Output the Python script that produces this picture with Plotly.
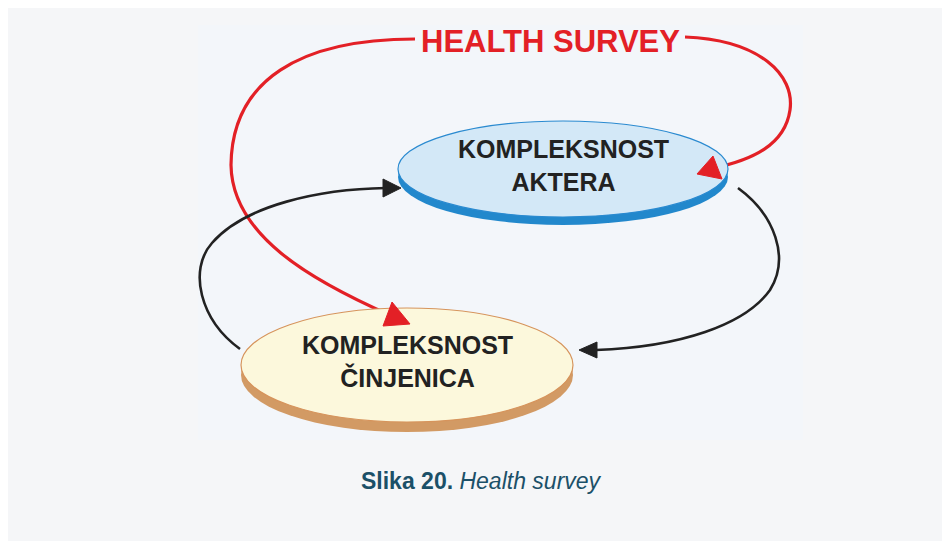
import plotly.graph_objects as go

# ---- diagram content ----
title_text = "HEALTH SURVEY"
node_labels = ["KOMPLEKSNOST<br>AKTERA", "KOMPLEKSNOST<br>ČINJENICA"]
caption_bold = "Slika 20."
caption_italic = "Health survey"

# node geometry (page pixel coords, y downward)
node_cx = [563, 407]
node_cy = [169, 365]
node_rx = [165, 166]
node_ry = [48, 57]
node_fill = ["#d3e8f7", "#fcf8dc"]
node_edge = ["#2a8ad0", "#d6945c"]
node_shadow = ["#2288cc", "#d29a64"]
shadow_dy = [8, 10]

RED = "#e32026"
BLACK = "#222222"

# the page body has an 8px margin; axes are set so data units equal page pixels
OFF = 8
W, H = 950, 541

fig = go.Figure()
shapes = []
# background
shapes.append(dict(type="rect", x0=0, x1=949, y0=0, y1=540, fillcolor="#f5f6f8",
                   line=dict(width=0), layer="below"))
shapes.append(dict(type="rect", x0=198, x1=803, y0=25, y1=440, fillcolor="#f3f6fa",
                   line=dict(width=0), layer="below"))

# connectors (drawn before ellipses)
curves = [
    ("M 415 39 C 300 39, 232 80, 231 165 C 232 235, 310 280, 392 316", RED, 3.2),
    ("M 685 37 C 760 40, 795 75, 790 110 C 785 145, 752 160, 714 168", RED, 3.2),
    ("M 240 349 C 200 320, 188 270, 212 243 C 245 205, 320 189, 386 188", BLACK, 2.6),
    ("M 738 188 C 775 215, 790 258, 770 290 C 745 325, 680 347, 596 350", BLACK, 2.6),
]
for p, c, w in curves:
    shapes.append(dict(type="path", path=p, line=dict(color=c, width=w), layer="above"))

# ellipses
for i in range(2):
    cx, cy, rx, ry = node_cx[i], node_cy[i], node_rx[i], node_ry[i]
    shapes.append(dict(type="circle", x0=cx - rx, x1=cx + rx, y0=cy - ry + shadow_dy[i],
                       y1=cy + ry + shadow_dy[i], fillcolor=node_shadow[i],
                       line=dict(width=0), layer="above"))
    shapes.append(dict(type="circle", x0=cx - rx, x1=cx + rx, y0=cy - ry, y1=cy + ry,
                       fillcolor=node_fill[i], line=dict(color=node_edge[i], width=1.2),
                       layer="above"))

# arrowheads
heads = [
    ("M 410 324 L 383 326 L 392 302 Z", RED),
    ("M 697 174 L 713 156 L 722 179 Z", RED),
    ("M 401 188 L 383 179 L 383 197 Z", BLACK),
    ("M 579 350 L 597 342 L 597 358 Z", BLACK),
]
for p, c in heads:
    shapes.append(dict(type="path", path=p, fillcolor=c, line=dict(color=c, width=1),
                       layer="above"))

annotations = []
for i in range(2):
    annotations.append(dict(x=node_cx[i], y=node_cy[i] - 4, text="<b>" + node_labels[i] + "</b>",
                            showarrow=False, xanchor="center", yanchor="middle",
                            font=dict(family="Liberation Sans, Arial", size=25, color="#222222")))
annotations.append(dict(x=550, y=41, text="<b>" + title_text + "</b>", showarrow=False,
                        xanchor="center", yanchor="middle",
                        font=dict(family="Liberation Sans, Arial", size=31, color=RED)))
annotations.append(dict(x=481, y=481, text="<b>" + caption_bold + "</b> <i>" + caption_italic + "</i>",
                        showarrow=False, xanchor="center", yanchor="middle",
                        font=dict(family="Liberation Sans, Arial", size=23, color="#1b5068")))

fig.update_layout(
    width=W - OFF, height=H - OFF,
    margin=dict(l=0, r=0, t=0, b=0),
    paper_bgcolor="#f5f6f8", plot_bgcolor="rgba(0,0,0,0)",
    xaxis=dict(range=[OFF, W], visible=False, fixedrange=True),
    yaxis=dict(range=[H, OFF], visible=False, fixedrange=True),
    shapes=shapes, annotations=annotations, showlegend=False,
)
fig.write_html("out.html", config={"displayModeBar": False})
